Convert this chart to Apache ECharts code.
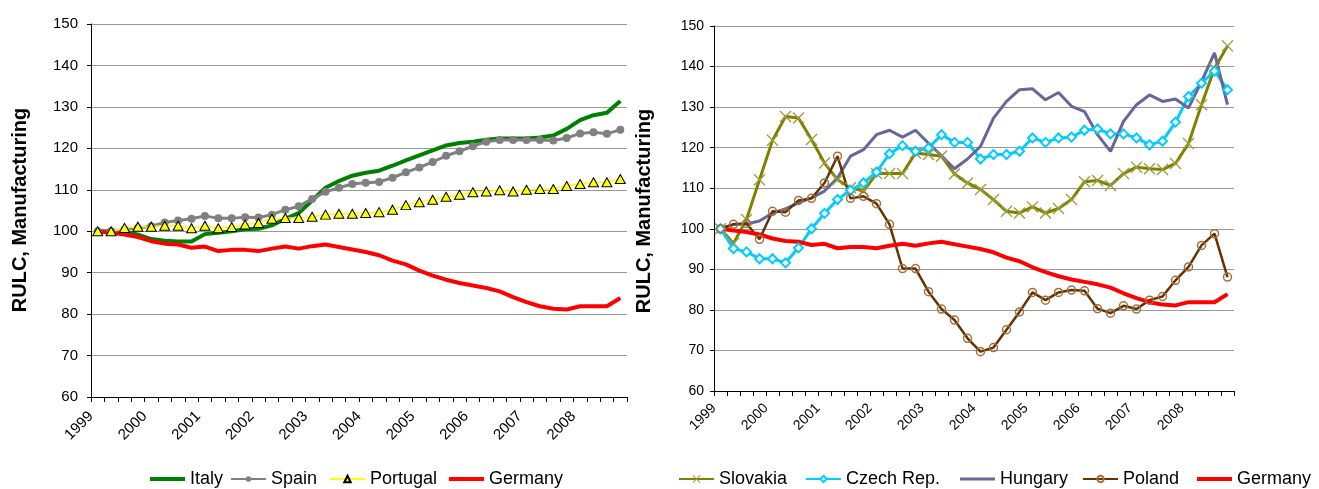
<!DOCTYPE html>
<html><head><meta charset="utf-8">
<script src="https://cdn.jsdelivr.net/npm/echarts@6/dist/echarts.min.js"></script>
<style>html,body{margin:0;padding:0;background:#fff}#c{width:1319px;height:489px}</style>
</head><body><div id="c"></div>
<script>
const categories = ['1999Q1','1999Q2','1999Q3','1999Q4','2000Q1','2000Q2','2000Q3','2000Q4',
 '2001Q1','2001Q2','2001Q3','2001Q4','2002Q1','2002Q2','2002Q3','2002Q4',
 '2003Q1','2003Q2','2003Q3','2003Q4','2004Q1','2004Q2','2004Q3','2004Q4',
 '2005Q1','2005Q2','2005Q3','2005Q4','2006Q1','2006Q2','2006Q3','2006Q4',
 '2007Q1','2007Q2','2007Q3','2007Q4','2008Q1','2008Q2','2008Q3','2008Q4'];
const yearLabels = ['1999','2000','2001','2002','2003','2004','2005','2006','2007','2008'];
const yTicks = {min:60, max:150, interval:10};
const yTitle = 'RULC, Manufacturing';

const italy = [100,100,99.8,99.2,98.1,97.7,97.5,97.5,99.3,99.6,
 100,100.5,100.6,101.4,103,104.4,107.4,110.5,112.1,113.4,
 114.1,114.6,115.8,117.1,118.3,119.5,120.7,121.3,121.6,122.1,
 122.4,122.4,122.4,122.6,123.1,124.7,126.8,128,128.6,131.4];
const spain = [100,100,100.4,100.8,101.2,102.1,102.6,103.0,103.7,103.1,
 103.1,103.4,103.3,104.0,105.2,106.0,107.8,109.5,110.5,111.4,
 111.7,111.9,112.9,114.2,115.4,116.7,118.2,119.3,120.5,121.6,
 122.0,122.0,122.0,122.0,121.9,122.5,123.6,123.9,123.5,124.5];
const portugal = [100,100,100.8,101.1,101.1,101.3,101.3,100.7,101.3,100.7,
 101.0,101.6,102,103,103.2,103.2,103.5,104.0,104.2,104.2,
 104.4,104.6,105.2,106.3,107,107.6,108.3,108.8,109.4,109.6,
 109.9,109.6,110,110.2,110.2,110.9,111.4,111.8,111.8,112.6];
const germany = [100,99.6,99.2,98.6,97.6,97.0,96.8,96.0,96.3,95.2,
 95.5,95.5,95.2,95.8,96.3,95.8,96.4,96.8,96.2,95.6,
 95.0,94.2,92.9,92.0,90.5,89.3,88.3,87.5,86.9,86.3,
 85.5,84.1,82.9,81.9,81.3,81.1,81.9,81.9,81.9,83.9];
const slovakia = [100,96.4,102.3,112.1,121.8,127.7,127.3,122.0,116.2,112.1,
 110.1,109.3,113.6,113.6,113.6,118.7,118.3,117.9,113.5,111.3,
 109.7,107.2,104.3,103.9,105.4,103.9,105,107.2,111.6,111.9,
 110.7,113.6,115.2,114.8,114.6,116.1,121,130.6,139.5,145.1];
const czech = [100,95.1,94.3,92.6,92.6,91.6,95.3,100,103.8,107.2,
 109.5,111.3,114,118.5,120.5,119.1,119.9,123.2,121.3,121.3,
 117.2,118.3,118.3,119.1,122.4,121.3,122.4,122.6,124.3,124.6,
 123.4,123.4,122.4,120.7,121.6,126.3,132.6,135.9,138.9,134.3];
const hungary = [100,101.1,101.2,101.9,103.9,104.9,106.4,107.6,109.3,112.5,
 117.9,119.5,123.2,124.3,122.6,124.3,121.1,118,114.8,117.2,
 120.3,127.3,131.4,134.3,134.5,131.8,133.6,130.2,128.9,123.2,
 119.1,126.5,130.6,133,131.4,132,129.8,136.3,143.4,130.6];
const poland = [100,101.1,101.3,97.4,104.3,104.1,107,107.5,111.3,117.9,
 107.5,108,106.2,101.1,90.2,90.2,84.5,80.2,77.5,73,
 69.7,70.7,75.1,79.5,84.3,82.4,84.3,84.9,84.7,80.3,
 79.2,81,80.2,82.4,83.3,87.3,90.6,95.9,98.8,88.1];

const FONT = '"Liberation Sans", Arial, sans-serif';
const chart = echarts.init(document.getElementById('c'));
const xMark = 'path://M0,0.8L0.8,0L5,4.2L9.2,0L10,0.8L5.8,5L10,9.2L9.2,10L5,5.8L0.8,10L0,9.2L4.2,5Z';

function catAxis(g){
  return {type:'category', gridIndex:g, data:categories, boundaryGap:true, position:'bottom',
    axisLine:{lineStyle:{color:'#000', width:1}},
    axisTick:{show:true, interval:0, length:5, lineStyle:{color:'#000'}},
    axisLabel:{show:false}, splitLine:{show:false}};
}
function labelAxis(g, fs, margin){
  return {type:'value', gridIndex:g, min:0, max:40, interval:4, position:'bottom',
    axisLine:{show:false}, axisTick:{show:false}, splitLine:{show:false},
    axisLabel:{rotate:45, fontSize:fs, fontFamily:FONT, color:'#000', margin:margin,
      showMaxLabel:false,
      formatter:(v)=> v < 40 ? yearLabels[v/4] : ''}};
}
function valAxis(g, fs, margin){
  return {type:'value', gridIndex:g, min:yTicks.min, max:yTicks.max, interval:yTicks.interval,
    axisLine:{show:true, lineStyle:{color:'#000'}},
    axisTick:{show:true, length:4, lineStyle:{color:'#000'}},
    axisLabel:{fontSize:fs, fontFamily:FONT, color:'#000', margin:margin},
    splitLine:{show:true, lineStyle:{color:'#999', width:1}}};
}
function line(name, data, xi, yi, opts){
  return Object.assign({name, type:'line', data, xAxisIndex:xi, yAxisIndex:yi,
    showAllSymbol:true, animation:false, smooth:false}, opts);
}

const series = [
  line('Italy', italy, 0, 0, {symbol:'none', lineStyle:{color:'#008000', width:4}, itemStyle:{color:'#008000'}}),
  line('Spain', spain, 0, 0, {symbol:'circle', symbolSize:8, lineStyle:{color:'#808080', width:3}, itemStyle:{color:'#808080'}}),
  line('Portugal', portugal, 0, 0, {symbol:'triangle', symbolSize:[10,9], lineStyle:{color:'#FFFF00', width:1.5}, itemStyle:{color:'#FFFF00', borderColor:'#000', borderWidth:1}}),
  line('Germany', germany, 0, 0, {symbol:'none', lineStyle:{color:'#FF0000', width:4}, itemStyle:{color:'#FF0000'}}),
  line('Slovakia', slovakia, 2, 1, {symbol:xMark, symbolSize:12, lineStyle:{color:'#808000', width:3}, itemStyle:{color:'#9C9C3C'}}),
  line('Czech Rep.', czech, 2, 1, {symbol:'diamond', symbolSize:9, lineStyle:{color:'#00CCFF', width:3}, itemStyle:{color:'#FFFFFF', borderColor:'#00CCFF', borderWidth:2}}),
  line('Hungary', hungary, 2, 1, {symbol:'none', lineStyle:{color:'#666699', width:3}, itemStyle:{color:'#666699'}}),
  line('Poland', poland, 2, 1, {symbol:'circle', symbolSize:8, lineStyle:{color:'#663300', width:2.5}, itemStyle:{color:'rgba(0,0,0,0)', borderColor:'#A07040', borderWidth:1.5}}),
  line('Germany ', germany, 2, 1, {symbol:'none', lineStyle:{color:'#FF0000', width:4}, itemStyle:{color:'#FF0000'}})
];

// [name, left, icon override, icon height]
const legendItems = [
  ['Italy',150,'rect',4],['Spain',230,null,7],['Portugal',329,null,8],['Germany',449,'rect',4],
  ['Slovakia',678,null,10],['Czech Rep.',805,null,8],['Hungary',960,'rect',3],['Poland',1082,null,8],['Germany ',1197,'rect',4]
];
const legends = legendItems.map(([n, x, icon, h]) => {
  const l = {data:[n], left:x, top:468, itemWidth:35, itemHeight:h, itemGap:0, padding:[0,0,0,0],
    textStyle:{fontSize:18, fontFamily:FONT, color:'#000', lineHeight:22},
    formatter:(s)=>s.trim()};
  if (icon) l.icon = icon;
  return l;
});

chart.setOption({
  backgroundColor:'#fff',
  animation:false,
  grid:[
    {left:91, top:24, width:536, height:373},
    {left:714, top:26, width:520, height:365}
  ],
  xAxis:[catAxis(0), labelAxis(0,15,17), catAxis(1), labelAxis(1,14,15)],
  yAxis:[valAxis(0,15,13), valAxis(1,14,10)],
  legend:legends,
  graphic:[
    {type:'text', x:20, y:210, rotation:Math.PI/2, style:{text:yTitle, font:'bold 20px '+FONT, fill:'#000', align:'center', verticalAlign:'middle'}},
    {type:'text', x:644, y:211, rotation:Math.PI/2, style:{text:yTitle, font:'bold 20px '+FONT, fill:'#000', align:'center', verticalAlign:'middle'}}
  ],
  series
});
</script></body></html>
